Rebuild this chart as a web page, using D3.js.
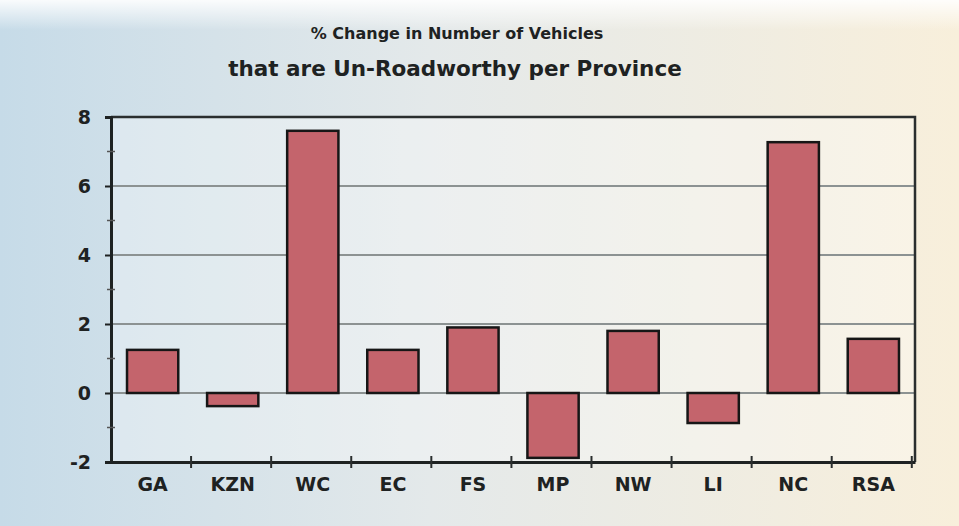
<!DOCTYPE html>
<html>
<head>
<meta charset="utf-8">
<script src="https://cdn.jsdelivr.net/npm/d3@7"></script>
<style>
  body { margin:0; }
  #canvas { width:959px; height:526px; }
  text { font-family: "DejaVu Sans", Arial, sans-serif; font-weight:bold; fill:#1e2222; }
</style>
</head>
<body>
<div id="canvas" class="canvas"></div>
<script>
// data
var provinces = ['GA','KZN','WC','EC','FS','MP','NW','LI','NC','RSA'];
var pctChange = [1.25, -0.38, 7.6, 1.25, 1.9, -1.88, 1.8, -0.87, 7.27, 1.57];
var yTicks = [-2, 0, 2, 4, 6, 8];

var W = 959, H = 526;
var m = {t:117, r:44, b:64, l:111};
var w = W - m.l - m.r,
    h = H - m.t - m.b;

var svg = d3.select('.canvas')
    .append('svg')
    .attr('width', W)
    .attr('height', H);

// background gradient (blue on left, beige on right)
var defs = svg.append('defs');
var grad = defs.append('linearGradient').attr('id','bg').attr('x1','0').attr('x2','1').attr('y1','0').attr('y2','0');
grad.append('stop').attr('offset','0%').attr('stop-color','#c6dbe8');
grad.append('stop').attr('offset','45%').attr('stop-color','#e4e9ea');
grad.append('stop').attr('offset','100%').attr('stop-color','#f8efdb');
var vgrad = defs.append('linearGradient').attr('id','topfade').attr('x1','0').attr('x2','0').attr('y1','0').attr('y2','1');
vgrad.append('stop').attr('offset','0%').attr('stop-color','#ffffff').attr('stop-opacity',0.9);
vgrad.append('stop').attr('offset','100%').attr('stop-color','#ffffff').attr('stop-opacity',0);

svg.append('rect').attr('width',W).attr('height',H).attr('fill','url(#bg)');
svg.append('rect').attr('width',W).attr('height',30).attr('fill','url(#topfade)');

var plot = svg.append('g')
    .attr('transform','translate(' + m.l + ',' + m.t + ')');

// scales
var scaleX = d3.scaleBand()
    .domain(provinces)
    .range([0, w])
    .paddingInner(0.36)
    .paddingOuter(0.2);

var scaleY = d3.scaleLinear()
    .domain([-2, 8])
    .range([h, 0]);

// plot area slightly lighter
plot.append('rect')
    .attr('width', w).attr('height', h)
    .attr('fill','#ffffff').attr('fill-opacity',0.3);

// gridlines
plot.selectAll('.grid')
    .data(yTicks.filter(function(d){ return d > -2 && d < 8; }))
    .enter()
    .append('line')
    .attr('class','grid')
    .attr('x1', 0).attr('x2', w)
    .attr('y1', function(d){ return scaleY(d); })
    .attr('y2', function(d){ return scaleY(d); })
    .style('stroke','#8c9292')
    .style('stroke-width', 2);

// frame top and right
plot.append('path')
    .attr('d','M0,0H' + w + 'V' + h)
    .attr('fill','none')
    .style('stroke','#2a2e2e')
    .style('stroke-width', 2.5);

// bars
plot.selectAll('rect.bar')
    .data(pctChange)
    .enter()
    .append('rect')
    .attr('class','bar')
    .attr('x', function(d, i){ return scaleX(provinces[i]); })
    .attr('width', scaleX.bandwidth())
    .attr('y', function(d){ return scaleY(Math.max(0, d)); })
    .attr('height', function(d){ return Math.abs(scaleY(d) - scaleY(0)); })
    .style('fill','#c4646c')
    .style('stroke','#161616')
    .style('stroke-width', 2.5);

// y axis
var axisY = d3.axisLeft()
    .scale(scaleY)
    .tickValues(yTicks)
    .tickFormat(function(d){ return String(d); })
    .tickSize(6)
    .tickPadding(14);

var axisNodeY = plot.append('g').attr('class','axis');
axisY(axisNodeY);
axisNodeY.selectAll('text').style('font-size','19px');

// minor ticks on y axis
var minor = [-1, 1, 3, 5, 7];
plot.selectAll('.minor')
    .data(minor)
    .enter()
    .append('line')
    .attr('x1', -4).attr('x2', 4)
    .attr('y1', function(d){ return scaleY(d); })
    .attr('y2', function(d){ return scaleY(d); })
    .style('stroke','#555')
    .style('stroke-width',1.5);

// x axis with ticks between categories
var axisX = d3.axisBottom()
    .scale(scaleX)
    .tickSize(0)
    .tickPadding(16);

var axisNodeX = plot.append('g')
    .attr('class','axis')
    .attr('transform','translate(0,' + h + ')');
axisX(axisNodeX);
axisNodeX.selectAll('text').style('font-size','19px');

var step = scaleX.step();
plot.selectAll('.xtick')
    .data(provinces)
    .enter()
    .append('line')
    .attr('x1', function(d){ return scaleX(d) - step * 0.2 + step; })
    .attr('x2', function(d){ return scaleX(d) - step * 0.2 + step; })
    .attr('y1', h - 6).attr('y2', h + 6)
    .style('stroke','#2a2e2e')
    .style('stroke-width',2);

svg.selectAll('.axis path, .axis line')
    .style('stroke','#1e2222')
    .style('stroke-width', 3);
svg.selectAll('.axis .tick line').style('stroke-width', 2);

// titles
svg.append('text')
    .attr('x', 457).attr('y', 39)
    .attr('text-anchor','middle')
    .style('font-size','16px')
    .text('% Change in Number of Vehicles');

svg.append('text')
    .attr('x', 455).attr('y', 76)
    .attr('text-anchor','middle')
    .style('font-size','21.5px')
    .text('that are Un-Roadworthy per Province');
</script>
</body>
</html>
